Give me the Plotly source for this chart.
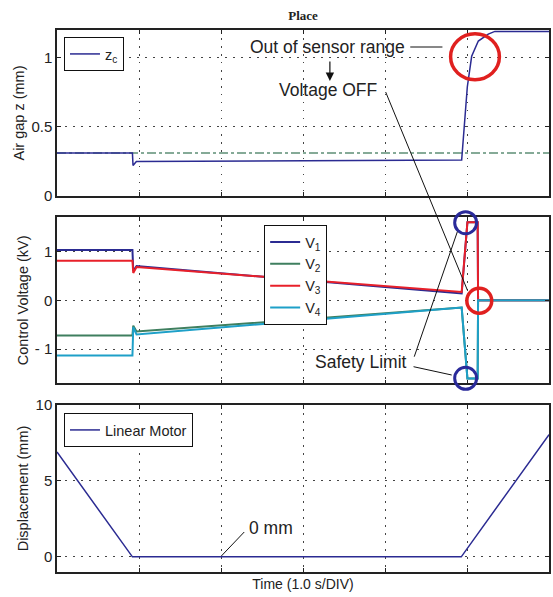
import plotly.graph_objects as go

# ---------------- data ----------------
t_z = [0, 0.92, 0.927, 0.968, 4.935, 4.964, 5.004, 5.057, 5.138, 5.259, 5.34, 6]
z_c = [0.31, 0.31, 0.22, 0.25, 0.26, 0.50, 0.79, 1.01, 1.12, 1.17, 1.19, 1.19]
t_ref = [0, 6]
z_ref = [0.31, 0.31]

t_v = [0, 0.92, 0.93, 0.97, 4.935, 5.005, 5.13, 5.135, 6]
v1 = [1.03, 1.03, 0.60, 0.70, 0.14, 1.60, 1.60, 0, 0]
v2 = [-0.72, -0.72, -0.52, -0.64, -0.15, -1.60, -1.60, 0, 0]
v3 = [0.81, 0.81, 0.56, 0.68, 0.17, 1.60, 1.60, 0, 0]
v4 = [-1.13, -1.13, -0.55, -0.70, -0.15, -1.60, -1.60, 0, 0]

t_d = [0, 0.92, 4.93, 6]
d_lm = [6.9, 0, 0, 8.05]

x_ticks = [1, 2, 3, 4, 5]

# ---------------- styling ----------------
NAVY = "#2b2b92"
GREEN = "#3f7f5f"
RED = "#e8202a"
CYAN = "#1ea0c8"
REFC = "#5e8f76"
SANS = "Liberation Sans, Arial, sans-serif"
TXT = "#222222"
GRIDDASH = "1.5px,6.5px"

W, H = 553, 597
L, R, T, B = 57, 551, 30, 572


def px(x):
    return (x - L) / (R - L)


def py(y):
    return (B - y) / (B - T)


fig = go.Figure()

fig.add_trace(go.Scatter(x=t_ref, y=z_ref, mode="lines", showlegend=False,
                         line=dict(color=REFC, width=1.5, dash="dashdot"),
                         xaxis="x", yaxis="y"))
fig.add_trace(go.Scatter(x=t_z, y=z_c, mode="lines", name="z<sub>c</sub>",
                         line=dict(color=NAVY, width=1.5),
                         xaxis="x", yaxis="y", legend="legend"))

for vals, nm, col in [(v1, "V<sub>1</sub>", NAVY), (v2, "V<sub>2</sub>", GREEN),
                      (v3, "V<sub>3</sub>", RED), (v4, "V<sub>4</sub>", CYAN)]:
    fig.add_trace(go.Scatter(x=t_v, y=vals, mode="lines", name=nm,
                             line=dict(color=col, width=2),
                             xaxis="x2", yaxis="y2", legend="legend2"))

fig.add_trace(go.Scatter(x=t_d, y=d_lm, mode="lines", name="Linear Motor",
                         line=dict(color=NAVY, width=1.5),
                         xaxis="x3", yaxis="y3", legend="legend3"))

dom_top = [py(196), 1.0]
dom_mid = [py(383.3), py(217.3)]
dom_bot = [0.0, py(405)]

common_x = dict(range=[0, 6], tickvals=x_ticks, showticklabels=False,
                showgrid=True, griddash=GRIDDASH, gridcolor="#444", gridwidth=1,
                ticks="inside", ticklen=4, tickcolor="#222", showline=True,
                linecolor="#222", linewidth=1.5, mirror="ticks", zeroline=False)
common_y = dict(showgrid=True, griddash=GRIDDASH, gridcolor="#444", gridwidth=1,
                ticks="inside", ticklen=4, tickcolor="#222", showline=True,
                linecolor="#222", linewidth=1.5, mirror="ticks", zeroline=False,
                tickfont=dict(family=SANS, size=15, color=TXT))
ytitle_font = dict(family=SANS, size=14.5, color=TXT)

leg_common = dict(bgcolor="white", bordercolor="#111", borderwidth=1,
                  font=dict(family=SANS, size=14.5, color=TXT),
                  xanchor="left", yanchor="top", xref="paper", yref="paper")

fig.update_layout(
    width=W, height=H,
    margin=dict(l=L, r=W - R, t=T, b=H - B),
    paper_bgcolor="white", plot_bgcolor="white",
    title=dict(text="<b>Place</b>", x=px(304), xref="paper", xanchor="center",
               y=1 - 15 / H, yanchor="middle",
               font=dict(family="Liberation Serif, Times New Roman, serif", size=13, color=TXT)),
    xaxis=dict(domain=[0, 1], anchor="y", **common_x),
    xaxis2=dict(domain=[0, 1], anchor="y2", **common_x),
    xaxis3=dict(domain=[0, 1], anchor="y3",
                title=dict(text="Time (1.0 s/DIV)", standoff=6,
                           font=dict(family=SANS, size=14, color=TXT)),
                **common_x),
    yaxis=dict(domain=dom_top, anchor="x", range=[0, 1.2], tickvals=[0, 0.5, 1],
               title=dict(text="Air gap z (mm)", standoff=3, font=ytitle_font), **common_y),
    yaxis2=dict(domain=dom_mid, anchor="x2", range=[-1.7, 1.7], tickvals=[-1, 0, 1],
                ticktext=["- 1", "0", "1"],
                title=dict(text="Control Voltage (kV)", standoff=3, font=ytitle_font), **common_y),
    yaxis3=dict(domain=dom_bot, anchor="x3", range=[-1, 10], tickvals=[0, 5, 10],
                title=dict(text="Displacement (mm)", standoff=3, font=ytitle_font), **common_y),
    legend=dict(x=px(64), y=py(37), **leg_common),
    legend2=dict(x=px(265), y=py(225), **leg_common),
    legend3=dict(x=px(64), y=py(413), **leg_common),
)

LINEC = "#111"
shapes = [
    # red circles
    dict(type="circle", xref="paper", yref="paper",
         x0=px(476.7 - 24.5), x1=px(476.7 + 24.5), y0=py(56.7 + 23), y1=py(56.7 - 23),
         line=dict(color="#e0201f", width=3.5)),
    dict(type="circle", xref="paper", yref="paper",
         x0=px(481 - 12.5), x1=px(481 + 12.5), y0=py(300.7 + 12.5), y1=py(300.7 - 12.5),
         line=dict(color="#e0201f", width=3.5)),
    # blue circles
    dict(type="circle", xref="paper", yref="paper",
         x0=px(467.3 - 11), x1=px(467.3 + 11), y0=py(222.7 + 11), y1=py(222.7 - 11),
         line=dict(color="#2a2a9a", width=3)),
    dict(type="circle", xref="paper", yref="paper",
         x0=px(467.3 - 11), x1=px(467.3 + 11), y0=py(378.3 + 11), y1=py(378.3 - 11),
         line=dict(color="#2a2a9a", width=3)),
    # leader lines
    dict(type="line", xref="paper", yref="paper", x0=px(411.7), x1=px(444), y0=py(47), y1=py(47),
         line=dict(color=LINEC, width=1)),
    dict(type="line", xref="paper", yref="paper", x0=px(387), x1=px(469), y0=py(92), y1=py(290),
         line=dict(color=LINEC, width=1)),
    dict(type="line", xref="paper", yref="paper", x0=px(415.7), x1=px(459), y0=py(356.7), y1=py(231.7),
         line=dict(color=LINEC, width=1)),
    dict(type="line", xref="paper", yref="paper", x0=px(415), x1=px(453.3), y0=py(366.7), y1=py(375),
         line=dict(color=LINEC, width=1)),
    dict(type="line", xref="paper", yref="paper", x0=px(222), x1=px(245), y0=py(556), y1=py(532),
         line=dict(color=LINEC, width=1)),
]
fig.update_layout(shapes=shapes)

ann_font = dict(family=SANS, size=17.5, color=TXT)
annotations = [
    dict(text="Out of sensor range", x=px(329), y=py(47), xref="paper", yref="paper",
         showarrow=False, xanchor="center", yanchor="middle", font=ann_font),
    dict(text="Voltage OFF", x=px(329), y=py(90), xref="paper", yref="paper",
         showarrow=False, xanchor="center", yanchor="middle", font=ann_font),
    dict(text="Safety Limit", x=px(362), y=py(362), xref="paper", yref="paper",
         showarrow=False, xanchor="center", yanchor="middle", font=ann_font),
    dict(text="0 mm", x=px(272), y=py(528), xref="paper", yref="paper",
         showarrow=False, xanchor="center", yanchor="middle", font=ann_font),
    dict(text="", x=px(331), y=py(81), ax=0, ay=-21, xref="paper", yref="paper",
         axref="pixel", ayref="pixel", showarrow=True, arrowhead=2, arrowsize=1.4,
         arrowwidth=1.2, arrowcolor=LINEC),
]
fig.update_layout(annotations=annotations)

fig.write_html("out.html", config={"displayModeBar": False},
               post_script="document.body.style.margin='0';document.body.style.padding='0';")
